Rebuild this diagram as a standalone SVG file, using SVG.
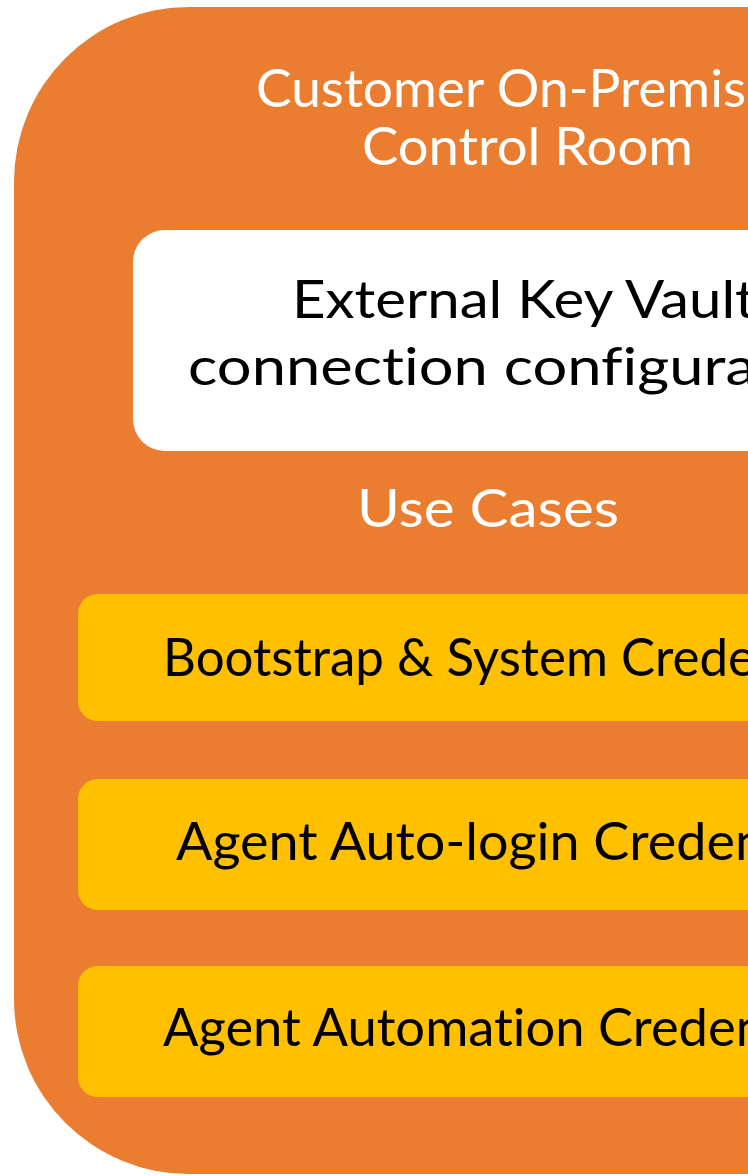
<svg xmlns="http://www.w3.org/2000/svg" width="748" height="1176" viewBox="0 0 748 1176">
<style>
.t{font-family:Lato,"Liberation Sans",sans-serif;font-size:53px;font-variant-ligatures:none;font-feature-settings:"liga" 0,"clig" 0}
.w{fill:#ffffff}
.k{fill:#000000}
.uc{fill:#FFC000}
</style>
<rect width="748" height="1176" fill="#ffffff"/>
<g id="control-room">
<rect x="14" y="7" width="1030" height="1167" rx="175" ry="175" fill="#EB7D31"/>
<text class="t w" x="256" y="107" textLength="490" lengthAdjust="spacingAndGlyphs">Customer On-Premis</text>
<text class="t w" x="362" y="165" textLength="331" lengthAdjust="spacingAndGlyphs">Control Room</text>
<text class="t w" x="357" y="527" textLength="262" lengthAdjust="spacingAndGlyphs">Use Cases</text>
</g>
<g id="key-vault">
<rect x="133" y="230" width="790" height="221" rx="32" ry="32" fill="#ffffff"/>
<text class="t k" x="292" y="318" textLength="464" lengthAdjust="spacingAndGlyphs">External Key Vault</text>
<text class="t k" x="188" y="385" textLength="568" lengthAdjust="spacingAndGlyphs">connection configura</text>
</g>
<g id="bootstrap">
<rect class="uc" x="78" y="594" width="900" height="127" rx="20" ry="20"/>
<text class="t k" x="163" y="676" textLength="592" lengthAdjust="spacingAndGlyphs">Bootstrap &amp; System Crede</text>
</g>
<g id="auto-login">
<rect class="uc" x="78" y="779" width="900" height="131" rx="20" ry="20"/>
<text class="t k" x="176" y="860" textLength="589" lengthAdjust="spacingAndGlyphs">Agent Auto-login Creden</text>
</g>
<g id="automation">
<rect class="uc" x="78" y="966" width="900" height="131" rx="20" ry="20"/>
<text class="t k" x="163" y="1046" textLength="602" lengthAdjust="spacingAndGlyphs">Agent Automation Creden</text>
</g>
<g id="connectors"/>
</svg>
